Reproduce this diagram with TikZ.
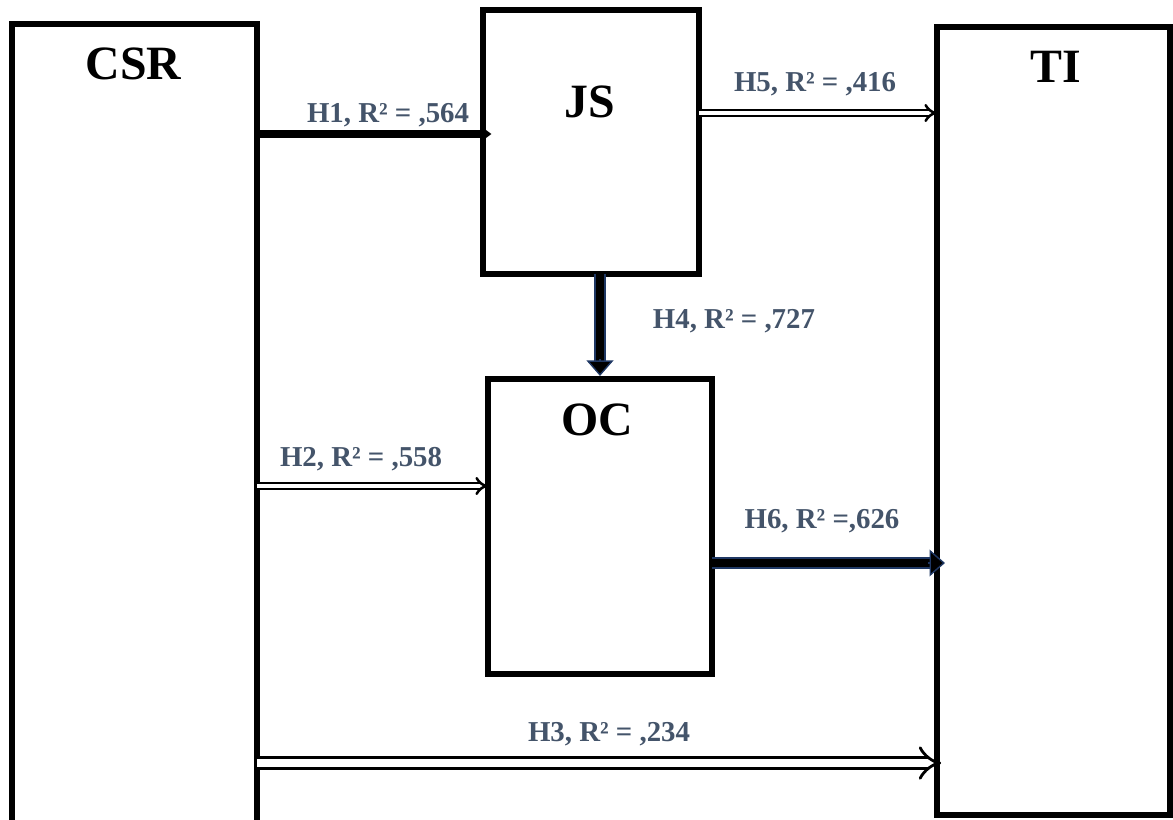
\documentclass[tikz,border=0pt]{standalone}
\usepackage{fontspec}
\setmainfont{Liberation Serif}
\usepackage{xcolor}
\usetikzlibrary{arrows.meta, positioning, calc}
\definecolor{pathgray}{HTML}{44546A}
\definecolor{pathnavy}{HTML}{1F3864}

\begin{document}
\begin{tikzpicture}[x=0.025cm, y=-0.025cm,
  box/.style={draw, line width=4.2pt, inner sep=0pt, outer sep=0pt},
  boxtitle/.style={anchor=base, font=\fontsize{34}{37}\selectfont\bfseries},
  pathlabel/.style={anchor=base, font=\fontsize{20.5}{24}\selectfont\bfseries, text=pathgray},
  solidpath/.style={line width=5.5pt, -{Triangle[length=7pt, width=10pt]}},
  openpath/.style={double, line width=1.8pt, double distance=2.4pt, -{Implies}},
  navyshaft/.style={draw=pathnavy, line width=1pt, double=black, double distance=6pt},
  navytip/.style={draw=pathnavy, line width=1pt, -{Triangle[length=11pt, width=19pt, fill=black]}}
]
  \useasboundingbox (0,0) rectangle (1173,820);
  \clip (0,0) rectangle (1173,820);

  % Constructs
  \node[box, minimum width=6.125cm, minimum height=20.4cm] (csr) at (134.5,432) {};
  \node[box, minimum width=5.4cm, minimum height=6.6cm] (js) at (591,142) {};
  \node[box, minimum width=5.6cm, minimum height=7.375cm] (oc) at (600,526.5) {};
  \node[box, minimum width=5.825cm, minimum height=19.7cm] (ti) at (1053.5,421) {};

  \node[boxtitle] (csrtitle) at (133.5,80) {CSR};
  \node[boxtitle] (jstitle) at (590,118) {JS};
  \node[boxtitle] (octitle) at (597.5,436) {OC};
  \node[boxtitle] (tititle) at (1056,83) {TI};

  % Hypothesised paths
  \draw[solidpath, shorten >=-6pt] (csr.east |- 0,134) -- (js.west |- 0,134);
  \draw[openpath] (js.east |- 0,113) -- (ti.west |- 0,113);
  \draw[openpath] (csr.east |- 0,486) -- (oc.west |- 0,486);
  \draw[openpath, line width=2pt, double distance=6.2pt, shorten >=-3pt]
    (csr.east |- 0,763) -- (ti.west |- 0,763);

  \coordinate (h4end) at ($(oc.north)+(0,-3)$);
  \coordinate (h6end) at ($(ti.west |- 0,563)+(8,0)$);
  \draw[navyshaft, shorten >=10pt] (oc.north |- js.south) -- (h4end);
  \draw[navytip] ($(h4end)!12pt!(oc.north |- js.south)$) -- (h4end);
  \draw[navyshaft, shorten >=10pt] (oc.east |- 0,563) -- (h6end);
  \draw[navytip] ($(h6end)!12pt!(oc.east |- 0,563)$) -- (h6end);

  % Path labels
  \node[pathlabel] (h1) at (388,123) {H1, R² = ,564};
  \node[pathlabel] (h5) at (815,92) {H5, R² = ,416};
  \node[pathlabel, anchor=base west] (h4) at (648,329) {H4, R² = ,727};
  \node[pathlabel] (h2) at (361,467) {H2, R² = ,558};
  \node[pathlabel] (h6) at (822,528) {H6, R² =,626};
  \node[pathlabel] (h3) at (609,741) {H3, R² = ,234};
\end{tikzpicture}
\end{document}
